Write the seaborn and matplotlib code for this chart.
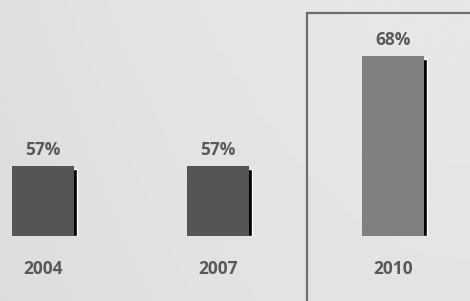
import numpy as np
import pandas as pd
import matplotlib
matplotlib.use("Agg")
import matplotlib.pyplot as plt
from matplotlib.patches import Rectangle
import seaborn as sns

# data
years = ["2004", "2007", "2010"]
share = [57, 57, 68]
labels = ["57%", "57%", "68%"]
bar_colors = ["#555555", "#555555", "#808080"]
base = 50  # bars start at 50%

df = pd.DataFrame({"year": years, "share": share})
df["height"] = df["share"] - base

sns.set_theme(style="white")
plt.rcParams["font.family"] = ["Open Sans", "DejaVu Sans"]
text_color = "#595959"

fig = plt.figure(figsize=(4.7, 3.01), dpi=100)

# paper-like background
bg = fig.add_axes([0, 0, 1, 1])
xx, yy = np.meshgrid(np.linspace(0, 1, 200), np.linspace(0, 1, 130))
shade = 0.905 - 0.03 * (1 - xx) ** 2 - 0.012 * yy
bg.imshow(shade, cmap="gray", vmin=0, vmax=1, aspect="auto", extent=[0, 1, 0, 1])
bg.set_axis_off()

ax = fig.add_axes([0, 65 / 301, 1, 236 / 301])
ax.patch.set_alpha(0)

sns.barplot(data=df, x="year", y="height", hue="year", palette=bar_colors,
            saturation=1, width=0.35, linewidth=0, legend=False, ax=ax, zorder=2)

# drop shadow on the right side
pos = np.arange(len(years))
ax.bar(pos + 0.018, df["height"] - 0.3, width=0.35, color="black", zorder=1)

for i, (h, lab) in enumerate(zip(df["height"], labels)):
    ax.annotate(lab, (i, h), xytext=(0, 11.5), textcoords="offset points",
                ha="center", va="center", fontsize=12.5, fontweight="bold",
                color=text_color)

ax.set_xlim(-43 / 175, 427 / 175)
ax.set_ylim(0, 23.6)
ax.set_xlabel("")
ax.set_ylabel("")
ax.set_yticks([])
ax.tick_params(axis="x", length=0, pad=17, labelsize=12.5, labelcolor=text_color)
for t in ax.get_xticklabels():
    t.set_fontweight("bold")
sns.despine(ax=ax, left=True, bottom=True)

# highlight box around 2010
fig.patches.append(Rectangle((307 / 470, -0.05), 0.5, (301 - 13) / 301 + 0.05,
                             transform=fig.transFigure, fill=False,
                             edgecolor="#6e6e6e", linewidth=1.6, zorder=5))

fig.savefig("out.png", dpi=100)
